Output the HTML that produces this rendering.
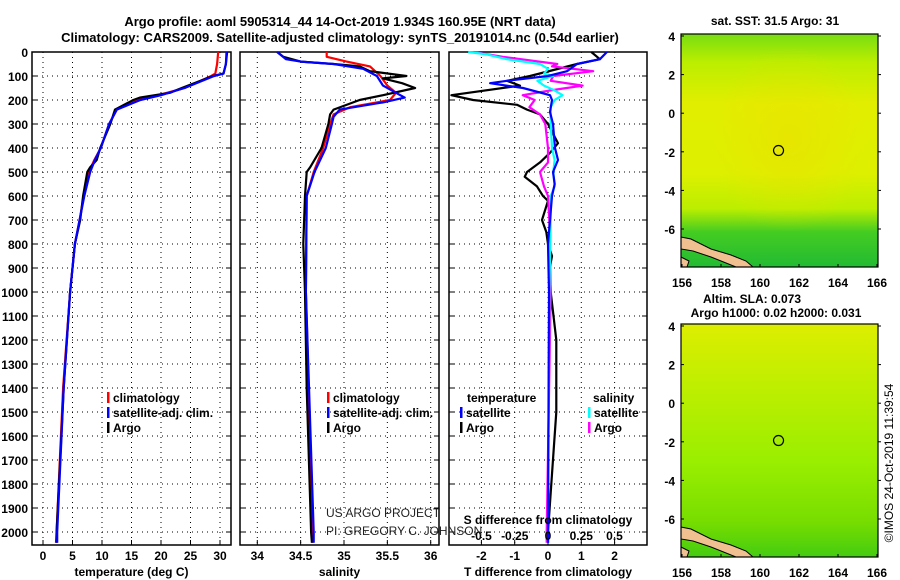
<!DOCTYPE html>
<html><head><meta charset="utf-8"><style>
html,body{margin:0;padding:0;background:#fff;}
svg{display:block;font-family:"Liberation Sans",Arial,sans-serif;}
.t{font-weight:bold;font-size:13px;}
.tk{font-weight:bold;font-size:12px;}
</style></head><body>
<svg id="c" width="900" height="580" viewBox="0 0 900 580">
<defs>
<linearGradient id="sstg" x1="0" y1="0" x2="0" y2="1">
<stop offset="0" stop-color="#77dd11"/><stop offset="0.12" stop-color="#bbee00"/><stop offset="0.3" stop-color="#e2ee00"/><stop offset="0.6" stop-color="#ddf000"/><stop offset="0.75" stop-color="#bbee00"/><stop offset="0.85" stop-color="#44cc22"/><stop offset="1" stop-color="#22bb33"/>
</linearGradient>
<radialGradient id="sstr" cx="0.55" cy="0.45" r="0.4"><stop offset="0" stop-color="#eedd00" stop-opacity="0.5"/><stop offset="1" stop-color="#eedd00" stop-opacity="0"/></radialGradient>
<linearGradient id="slag" x1="0" y1="0" x2="0" y2="1">
<stop offset="0" stop-color="#ddee00"/><stop offset="0.3" stop-color="#bbee00"/><stop offset="0.6" stop-color="#99ee00"/><stop offset="0.85" stop-color="#77dd00"/><stop offset="1" stop-color="#44cc11"/>
</linearGradient>
</defs>
<text class="t" x="340" y="26" text-anchor="middle">Argo profile: aoml 5905314_44 14-Oct-2019 1.934S 160.95E (NRT data)</text>
<text class="t" x="340" y="42" text-anchor="middle">Climatology: CARS2009. Satellite-adjusted climatology: synTS_20191014.nc (0.54d earlier)</text>
<g id="p1"></g>
<g id="p2"></g>
<g id="p3"></g>
<g id="cr"></g>
<g id="m1"></g>
<g id="m2"></g>
</svg>
<script>
// ---- data ----
const depthTicks=[0,100,200,300,400,500,600,700,800,900,1000,1100,1200,1300,1400,1500,1600,1700,1800,1900,2000];
const tempTicks=[0,5,10,15,20,25,30];
const salTicks=[34,34.5,35,35.5,36];
const tdTicks=[-2,-1,0,1,2];
const sdTicks=[-0.5,-0.25,0,0.25,0.5];
const tArgoD=[0,50,90,100,150,170,190,200,240,300,400,450,480,500,600,700,800,1000,1400,2000,2045];
const tArgoV=[31.2,31,30.6,28.8,23.5,21.5,16.4,15.3,12.2,11.4,9.7,9.1,8,7.5,6.8,6.3,5.4,4.6,3.5,2.3,2.3];
const tClimD=[0,50,90,100,150,180,200,240,300,400,450,500,600,700,800,1000,1400,2000,2045];
const tClimV=[29.7,29.5,29.2,28.5,24,19.5,16,12.5,11.2,9.8,8.7,7.8,6.9,6.2,5.4,4.6,3.4,2.3,2.2];
const tSatD=[0,50,90,100,150,180,200,240,300,400,450,500,600,700,800,1000,1400,2000,2045];
const tSatV=[31.1,31,30.6,29,24,20,16.5,12.5,11.2,9.8,8.8,8,7,6.2,5.4,4.6,3.5,2.4,2.4];
const sArgoD=[0,20,40,50,60,80,100,110,130,150,180,200,240,260,300,400,480,500,600,800,1000,1400,2000,2045];
const sArgoV=[34.23,34.3,34.5,34.88,35.18,35.3,35.72,35.45,35.67,35.82,35.45,35.18,34.88,34.84,34.82,34.74,34.61,34.57,34.55,34.53,34.55,34.57,34.62,34.63];
const sClimD=[0,20,40,60,100,140,170,200,230,260,300,400,500,600,1000,2000,2045];
const sClimV=[34.8,34.8,35.03,35.3,35.42,35.5,35.6,35.53,35.07,34.88,34.84,34.76,34.65,34.57,34.56,34.64,34.64];
const sSatD=[0,30,40,50,70,100,140,170,190,210,240,270,300,400,500,600,1000,2000,2045];
const sSatV=[34.23,34.33,34.5,34.88,35.22,35.38,35.45,35.6,35.7,35.45,34.95,34.88,34.86,34.79,34.66,34.57,34.56,34.65,34.65];
const dtArgoD=[0,30,50,100,120,140,180,200,220,240,260,300,380,420,460,500,520,560,600,620,700,750,800,850,900,1000,1200,1500,1800,2000,2045];
const dtArgoV=[1.3,1.56,0.87,-0.54,-1.23,-0.84,-2.9,-2.25,-0.93,-0.63,-0.24,0,0.3,0.06,-0.24,-0.63,-0.7,-0.33,-0.15,0,-0.18,-0.05,0,0.12,0.05,0.08,0.25,0.25,0.1,0,0];
const dtSatD=[0,30,50,80,100,120,130,150,180,200,250,300,400,450,500,550,600,700,800,1000,2000,2045];
const dtSatV=[1.77,1.56,0.87,0.57,0,-1.23,-1.74,-0.75,0.06,0.12,0.06,0.15,0.21,0.3,0.15,0.2,0.12,0.06,0,0.03,0,0];
const dsSatD=[0,10,30,50,70,90,100,120,140,160,180,200,230,300,400,450,500,560,600,700,1000,2000,2045];
const dsSatV=[-0.6,-0.46,-0.31,-0.06,0,-0.03,0.04,-0.08,-0.03,0.05,0.11,0.05,0.02,0.02,0.03,0.05,0.04,0.05,0.02,0.02,0.01,0,0];
const dsArgoD=[0,20,50,60,80,100,120,140,160,180,200,230,260,300,400,460,500,560,600,700,1000,2000,2045];
const dsArgoV=[-0.56,-0.34,0.07,0.03,0.34,0.04,0.02,0.26,0.02,-0.19,-0.1,-0.14,-0.06,-0.02,0,0,-0.06,-0.03,0,0.01,0.02,-0.01,-0.01];
const mapLonTicks=[156,158,160,162,164,166];
const mapLatTicks=[4,2,0,-2,-4,-6];
const floatLon=160.95, floatLat=-1.934;

// ---- helpers ----
const NS='http://www.w3.org/2000/svg';
function mk(tag,attrs,parent,txt){const e=document.createElementNS(NS,tag);for(const k in attrs)e.setAttribute(k,attrs[k]);if(txt!==undefined)e.textContent=txt;parent.appendChild(e);return e;}
const Y0=52, YS=0.24, YBOT=545;
function yD(d){return Y0+YS*d;}
function panel(g,x0,x1,xf,ticks,fmt,title,showY){
  mk('rect',{x:x0,y:Y0,width:x1-x0,height:YBOT-Y0,fill:'#fff'},g);
  depthTicks.forEach(d=>{const y=yD(d);
    const l=mk('line',{x1:x0,x2:x1,y1:y,y2:y,stroke:'#000','stroke-width':1,'stroke-dasharray':'1,4'},g);
    
    mk('line',{x1:x0,x2:x0+5,y1:y,y2:y,stroke:'#000'},g);mk('line',{x1:x1-5,x2:x1,y1:y,y2:y,stroke:'#000'},g);
    if(showY){const t=mk('text',{x:x0-4,y:y+5,'text-anchor':'end',class:'tk'},g,String(d));
      }
  });
  ticks.forEach(v=>{const x=xf(v);
    mk('line',{x1:x,x2:x,y1:Y0,y2:YBOT,stroke:'#000','stroke-dasharray':'1,4'},g);
    mk('line',{x1:x,x2:x,y1:YBOT-5,y2:YBOT,stroke:'#000'},g);
    if(fmt){const t=mk('text',{x:x,y:560,'text-anchor':'middle',class:'tk'},g,fmt(v));
      }
  });
  const tt=mk('text',{x:(x0+x1)/2,y:576,'text-anchor':'middle',class:'tk'},g,title);
  
  mk('rect',{x:x0,y:Y0,width:x1-x0,height:YBOT-Y0,fill:'none',stroke:'#000','stroke-width':1.5},g);
}
function series(g,xf,D,V,color,name,x0,x1){
  const pts=D.map((d,i)=>Math.max(x0,Math.min(x1,xf(V[i]))).toFixed(1)+','+yD(d).toFixed(1)).join(' ');
  const p=mk('polyline',{points:pts,fill:'none',stroke:color,'stroke-width':2.2,'stroke-linejoin':'round'},g);
  
}
function legend(g,x,y,color,label,name){
  mk('rect',{x:x,y:y-10,width:2.5,height:11,fill:color},g);
  const t=mk('text',{x:x+6,y:y,class:'tk'},g,label);
  
}

// panel 1
const p1=document.getElementById('p1');
const xT=v=>43+5.9*v;
panel(p1,32,231,xT,tempTicks,v=>String(v),'temperature (deg C)',true);
series(p1,xT,tClimD,tClimV,'#ff0000','temp-climatology-line',32,231);
series(p1,xT,tArgoD,tArgoV,'#000000','temp-argo-line',32,231);
series(p1,xT,tSatD,tSatV,'#0000ff','temp-satellite-line',32,231);
legend(p1,107,402,'#ff0000','climatology','legend-climatology');
legend(p1,107,417,'#0000ff','satellite-adj. clim.','legend-satellite');
legend(p1,107,432,'#000000','Argo','legend-argo');

// panel 2
const p2=document.getElementById('p2');
const xS=v=>257.3+86.7*(v-34);
panel(p2,240,439,xS,salTicks,v=>String(v),'salinity',false);
series(p2,xS,sClimD,sClimV,'#ff0000','sal-climatology-line',240,439);
series(p2,xS,sArgoD,sArgoV,'#000000','sal-argo-line',240,439);
series(p2,xS,sSatD,sSatV,'#0000ff','sal-satellite-line',240,439);
legend(p2,327,402,'#ff0000','climatology','legend-climatology');
legend(p2,327,417,'#0000ff','satellite-adj. clim.','legend-satellite');
legend(p2,327,432,'#000000','Argo','legend-argo');

// panel 3
const p3=document.getElementById('p3');
const xDT=v=>548+33.3*v, xDS=v=>548+133*v;
panel(p3,449,647,xDT,tdTicks,v=>String(v),'T difference from climatology',false);
series(p3,xDT,dtArgoD,dtArgoV,'#000000','tdiff-argo-line',449,647);
series(p3,xDS,dsArgoD,dsArgoV,'#ff00ff','sdiff-argo-line',449,647);
series(p3,xDS,dsSatD,dsSatV,'#00ffff','sdiff-satellite-line',449,647);
series(p3,xDT,dtSatD,dtSatV,'#0000ff','tdiff-satellite-line',449,647);
sdTicks.forEach(v=>{const t=mk('text',{x:xDS(v),y:540,'text-anchor':'middle',class:'tk'},p3,String(v));
  });
mk('text',{x:548,y:524,'text-anchor':'middle',class:'tk'},p3,'S difference from climatology');
mk('text',{x:467,y:402,class:'tk'},p3,'temperature');
legend(p3,460,417,'#0000ff','satellite','legend-t-satellite');
legend(p3,460,432,'#000000','Argo','legend-t-argo');
mk('text',{x:593,y:402,class:'tk'},p3,'salinity');
legend(p3,588,417,'#00ffff','satellite','legend-s-satellite');
legend(p3,588,432,'#ff00ff','Argo','legend-s-argo');

const cr=document.getElementById('cr');
mk('text',{x:326,y:517,'font-size':'12px',fill:'#222'},cr,'US ARGO PROJECT');
mk('text',{x:326,y:535,'font-size':'12px',fill:'#222'},cr,'PI: GREGORY C. JOHNSON');

// maps
function map(gid,top,fillId,overlay,titles){
  const g=document.getElementById(gid);
  const L=681,R=878,B=top+233;
  const xl=v=>682+19.5*(v-156), yl=v=>top+2+19.3*(4-v);
  mk('rect',{x:L,y:top,width:R-L,height:B-top,fill:'url(#'+fillId+')'},g);
  if(overlay)mk('rect',{x:L,y:top,width:R-L,height:B-top,fill:'url(#'+overlay+')'},g);
  mk('path',{d:`M${L} ${B-30} L${L+10} ${B-28} L${L+30} ${B-18} L${L+50} ${B-12} L${L+65} ${B-6} L${L+72} ${B} L${L+55} ${B} L${L+30} ${B-10} L${L+12} ${B-16} L${L} ${B-18} Z`,fill:'#f0c090',stroke:'#000','stroke-width':1},g);
  mk('path',{d:`M${L} ${B-10} L${L+8} ${B-6} L${L+6} ${B} L${L} ${B} Z`,fill:'#f0c090',stroke:'#000','stroke-width':1},g);
  mk('rect',{x:L,y:top,width:R-L,height:B-top,fill:'none',stroke:'#000','stroke-width':1.2},g);
  mapLonTicks.forEach(v=>{const t=mk('text',{x:xl(v),y:B+20,'text-anchor':'middle',class:'tk'},g,String(v));
    
    mk('line',{x1:xl(v),x2:xl(v),y1:B,y2:B-3,stroke:'#000'},g);});
  mapLatTicks.forEach(v=>{const t=mk('text',{x:L-6,y:yl(v)+5,'text-anchor':'end',class:'tk'},g,String(v));
    
    mk('line',{x1:L,x2:L+3,y1:yl(v),y2:yl(v),stroke:'#000'},g);mk('line',{x1:R,x2:R+3,y1:yl(v),y2:yl(v),stroke:'#000'},g);});
  const c=mk('circle',{cx:xl(floatLon),cy:yl(floatLat),r:5,fill:'none',stroke:'#000','stroke-width':1.2},g);
  
  titles.forEach(([txt,y,x])=>{const t=mk('text',{x:x,y:y,'text-anchor':'middle',class:'tk'},g,txt);
    });
}
map('m1',34,'sstg','sstr',[['sat. SST: 31.5 Argo: 31',25,775]]);
map('m2',324,'slag',null,[['Altim. SLA: 0.073',303,752],['Argo h1000: 0.02 h2000: 0.031',317,776]]);
const m2=document.getElementById('m2');
const rt=mk('text',{x:0,y:0,'font-size':'12px',transform:'translate(893,463) rotate(-90)','text-anchor':'middle'},m2,'©IMOS 24-Oct-2019 11:39:54');

</script>
</body></html>
